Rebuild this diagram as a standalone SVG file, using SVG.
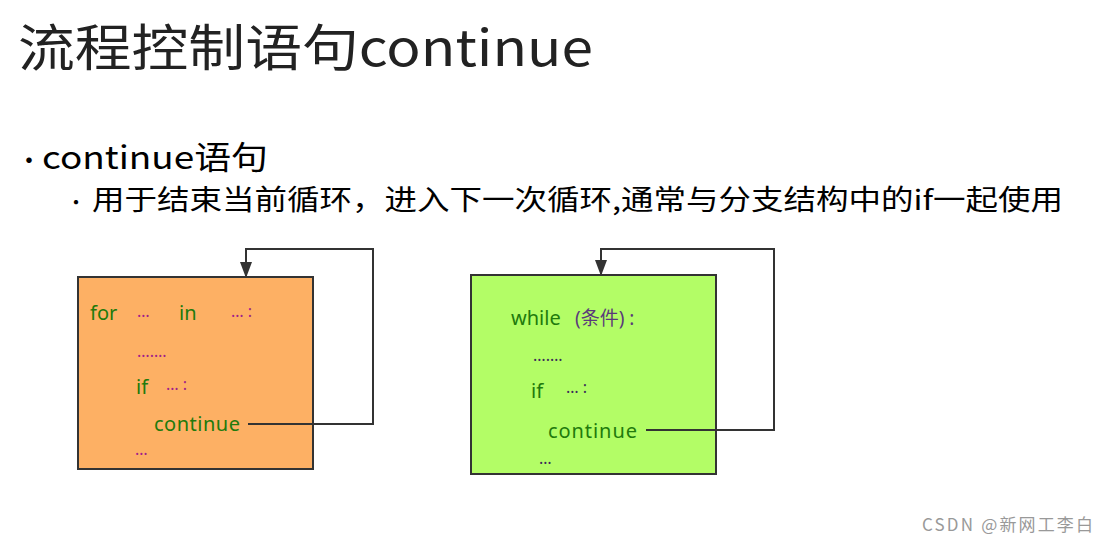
<svg xmlns="http://www.w3.org/2000/svg" width="1107" height="543" viewBox="0 0 1107 543">
<defs>
<style>
.t{font-family:"Microsoft YaHei","Noto Sans CJK SC",sans-serif}
.g{fill:#217a0c;font-size:20px;font-family:"Noto Sans","Noto Sans CJK SC",sans-serif}
.p{fill:#a0208a;font-size:16px;font-family:"Noto Sans",sans-serif}
.d{fill:#3a2a5a;font-size:16px;font-family:"Noto Sans",sans-serif}
.ln{fill:none;stroke:#333;stroke-width:2}
</style>
<marker id="ah" markerWidth="16" markerHeight="12" refX="15" refY="6" orient="auto" markerUnits="userSpaceOnUse" viewBox="0 0 16 12"><path d="M0,0 L16,6 L0,12 z" fill="#333"/></marker>
</defs>
<rect width="1107" height="543" fill="#fff"/>
<text class="t" x="18" y="66" font-size="50" fill="#222" textLength="575" lengthAdjust="spacingAndGlyphs">流程控制语句continue</text>
<text class="t" x="16" y="170" font-size="26" fill="#000">•</text>
<text class="t" x="42" y="169" font-size="32" fill="#000" textLength="226" lengthAdjust="spacingAndGlyphs">continue语句</text>
<text class="t" x="66" y="210" font-size="20" fill="#000">•</text>
<text class="t" x="92" y="210" font-size="28" fill="#000" textLength="971" lengthAdjust="spacingAndGlyphs">用于结束当前循环，进入下一次循环,通常与分支结构中的if一起使用</text>
<g id="forbox">
<rect x="78" y="277" width="235" height="192" fill="#fdb064" stroke="#333" stroke-width="2"/>
<text class="g" x="90" y="320">for</text>
<text class="p" x="137" y="317">…</text>
<text class="g" x="179" y="320">in</text>
<text class="p" x="231" y="317">… :</text>
<text class="p" x="137" y="357">…….</text>
<text class="g" x="136" y="394">if</text>
<text class="p" x="166" y="390">… :</text>
<text class="g" x="154" y="431" textLength="86">continue</text>
<text class="p" x="135" y="455">…</text>
</g>
<g id="whilebox">
<rect x="471" y="275" width="245" height="199" fill="#b3fd66" stroke="#333" stroke-width="2"/>
<text class="g" x="511" y="325">while</text>
<text x="575" y="325" style="fill:#5a3a7a;font-size:19px;font-family:'Noto Sans','Noto Sans CJK SC',sans-serif">(条件) :</text>
<text class="d" x="533" y="361">…….</text>
<text class="g" x="531" y="398">if</text>
<text class="d" x="566" y="393">… :</text>
<text class="g" x="548" y="438" textLength="89">continue</text>
<text class="d" x="539" y="464">…</text>
</g>
<g id="connectors">
<polyline class="ln" points="248,424 373,424 373,249 246,249 246,277" marker-end="url(#ah)"/>
<polyline class="ln" points="646,430 774,430 774,249 601,249 601,275" marker-end="url(#ah)"/>
</g>
<text class="t" x="922" y="531" font-size="17" fill="#999" textLength="171">CSDN @新网工李白</text>
</svg>
